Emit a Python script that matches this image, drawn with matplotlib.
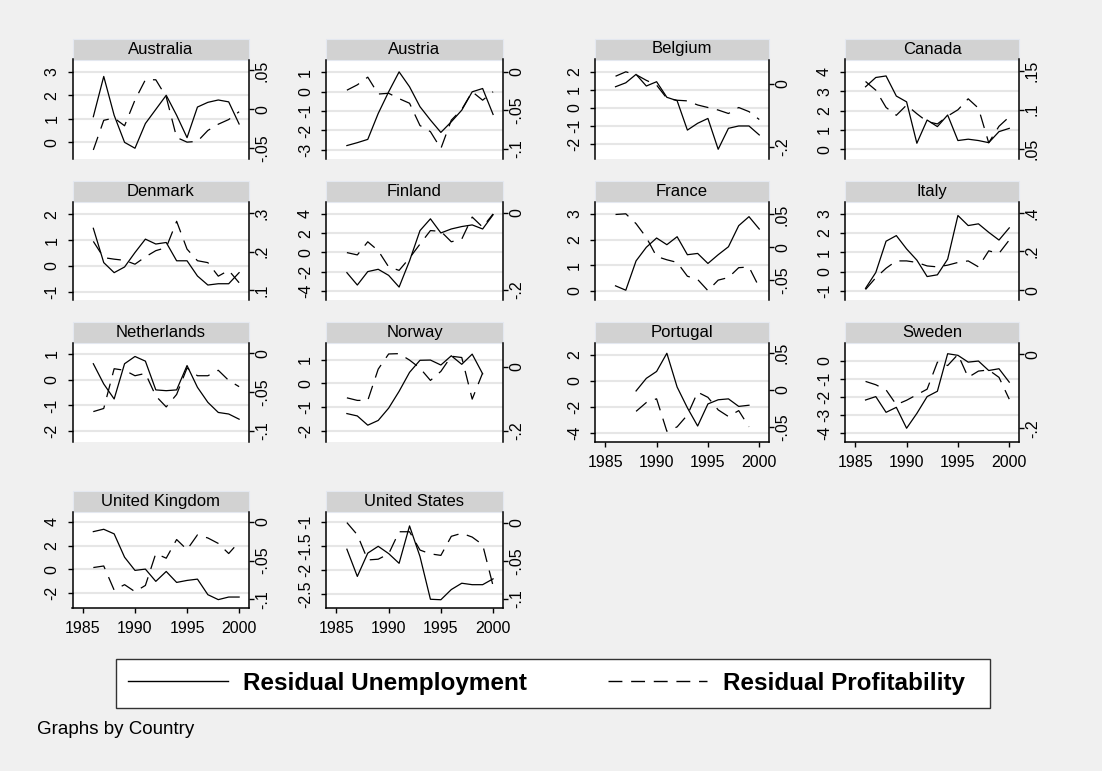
import numpy as np
import matplotlib
matplotlib.use('Agg')
import matplotlib.pyplot as plt
from matplotlib.patches import Rectangle
from matplotlib.lines import Line2D

plt.rcParams['font.family'] = ['Liberation Sans', 'DejaVu Sans']
plt.rcParams['lines.scale_dashes'] = False

nan = np.nan
years = list(range(1986, 2001))

# Residual Unemployment (left axis) / Residual Profitability (right axis)
australia_unemp = [1.09, 2.8, 1.15, 0.0, -0.25, 0.8, 1.4, 2.0, 1.15, 0.2, 1.5, 1.7, 1.8, 1.72, 0.78]
australia_prof = [-0.052, -0.014, -0.011, -0.021, 0.012, 0.038, 0.038, 0.016, -0.036, -0.042, -0.041, -0.027, -0.019, -0.013, -0.003]
austria_unemp = [-2.78, -2.63, -2.46, -1.12, 0.0, 1.03, 0.26, -0.77, -1.46, -2.1, -1.55, -0.95, 0.0, 0.17, -1.17]
austria_prof = [-0.024, -0.017, -0.007, -0.029, -0.028, -0.035, -0.041, -0.07, -0.078, -0.1, -0.063, -0.049, -0.026, -0.037, -0.026]
belgium_unemp = [1.17, 1.39, 1.86, 1.21, 1.45, 0.58, 0.39, -1.25, -0.87, -0.6, -2.32, -1.15, -1.02, -1.02, -1.52]
belgium_prof = [0.023, 0.037, 0.028, 0.01, -0.005, -0.047, -0.053, -0.055, -0.068, -0.076, -0.084, -0.095, -0.076, -0.089, -0.114]
canada_unemp = [3.23, 3.71, 3.79, 2.75, 2.45, 0.31, 1.51, 1.17, 1.77, 0.45, 0.52, 0.45, 0.34, 0.91, 1.08]
canada_prof = [0.136, 0.125, 0.103, 0.093, 0.106, 0.095, 0.085, 0.082, 0.092, 0.1, 0.114, 0.102, 0.058, 0.079, 0.091]
denmark_unemp = [1.46, 0.13, -0.26, -0.04, 0.52, 1.04, 0.85, 0.91, 0.2, 0.2, -0.39, -0.74, -0.69, -0.69, -0.26]
denmark_prof = [0.227, 0.185, 0.181, 0.178, 0.168, 0.187, 0.203, 0.211, 0.279, 0.207, 0.177, 0.172, 0.137, 0.152, 0.12]
finland_unemp = [-2.09, -3.37, -1.98, -1.74, -2.37, -3.58, -0.87, 2.26, 3.48, 2.02, 2.43, 2.68, 2.85, 2.43, 3.9]
finland_prof = [-0.103, -0.109, -0.075, -0.098, -0.14, -0.149, -0.117, -0.081, -0.046, -0.048, -0.075, -0.068, -0.011, -0.037, -0.003]
france_unemp = [0.2, 0.03, 1.17, 1.7, 2.06, 1.8, 2.11, 1.41, 1.46, 1.07, 1.41, 1.72, 2.54, 2.89, 2.41]
france_prof = [0.05, 0.051, 0.036, 0.015, -0.014, -0.019, -0.023, -0.044, -0.049, -0.066, -0.05, -0.046, -0.031, -0.03, -0.061]
italy_unemp = [-0.87, -0.05, 1.57, 1.86, 1.17, 0.59, -0.26, -0.17, 0.64, 2.9, 2.38, 2.47, 2.03, 1.63, 2.26]
italy_prof = [0.003, 0.064, 0.113, 0.151, 0.151, 0.143, 0.125, 0.12, 0.129, 0.143, 0.151, 0.12, 0.203, 0.19, 0.259]
netherlands_unemp = [0.61, -0.17, -0.75, 0.61, 0.89, 0.71, -0.4, -0.43, -0.4, 0.54, -0.3, -0.88, -1.27, -1.33, -1.53]
netherlands_prof = [-0.075, -0.071, -0.02, -0.022, -0.029, -0.026, -0.055, -0.069, -0.053, -0.019, -0.029, -0.029, -0.022, -0.035, -0.043]
norway_unemp = [-1.28, -1.38, -1.77, -1.57, -1.05, -0.34, 0.46, 0.97, 0.98, 0.77, 1.16, 0.8, 1.23, 0.4, nan]
norway_prof = [-0.097, -0.105, -0.105, -0.008, 0.039, 0.04, 0.02, -0.005, -0.043, -0.015, 0.032, 0.028, -0.101, -0.02, nan]
portugal_unemp = [nan, nan, -0.8, 0.17, 0.7, 2.1, -0.5, -2.1, -3.5, -1.8, -1.48, -1.41, -1.99, -1.9, nan]
portugal_prof = [nan, nan, -0.029, -0.017, -0.012, -0.056, -0.05, -0.034, -0.003, -0.01, -0.027, -0.036, -0.028, -0.05, nan]
sweden_unemp = [-2.18, -1.99, -2.87, -2.59, -3.76, -2.93, -1.99, -1.69, 0.41, 0.32, -0.06, 0.0, -0.53, -0.43, -1.18]
sweden_prof = [-0.073, -0.082, -0.096, -0.136, -0.124, -0.109, -0.094, -0.021, -0.03, 0.0, -0.062, -0.045, -0.042, -0.062, -0.121]
uk_unemp = [3.18, 3.38, 2.99, 1.01, -0.11, 0.0, -1.04, -0.2, -1.13, -0.96, -0.85, -2.17, -2.59, -2.37, -2.37]
uk_prof = [-0.059, -0.057, -0.088, -0.081, -0.09, -0.082, -0.041, -0.047, -0.023, -0.036, -0.017, -0.021, -0.028, -0.041, -0.026]
us_unemp = [-1.57, -2.13, -1.65, -1.51, -1.66, -1.86, -1.09, -1.72, -2.6, -2.61, -2.4, -2.27, -2.3, -2.3, -2.18]
us_prof = [0.0, -0.016, -0.049, -0.048, -0.041, -0.012, -0.012, -0.036, -0.041, -0.043, -0.018, -0.014, -0.019, -0.029, -0.083]

# name, left series, right series, left ylim, left ticks, right ylim, right ticks
panels = [
    ('Australia', australia_unemp, australia_prof, (-0.72, 3.52), [0, 1, 2, 3], (-0.064, 0.064), [-0.05, 0, 0.05]),
    ('Austria', austria_unemp, austria_prof, (-3.49, 1.67), [-3, -2, -1, 0, 1], (-0.114, 0.016), [-0.1, -0.05, 0]),
    ('Belgium', belgium_unemp, belgium_prof, (-2.88, 2.69), [-2, -1, 0, 1, 2], (-0.24, 0.076), [-0.2, 0]),
    ('Canada', canada_unemp, canada_prof, (-0.52, 4.64), [0, 1, 2, 3, 4], (0.037, 0.164), [0.05, 0.1, 0.15]),
    ('Denmark', denmark_unemp, denmark_prof, (-1.34, 2.48), [-1, 0, 1, 2], (0.074, 0.329), [0.1, 0.2, 0.3]),
    ('Finland', finland_unemp, finland_prof, (-4.97, 5.22), [-4, -2, 0, 2, 4], (-0.227, 0.028), [-0.2, 0]),
    ('France', france_unemp, france_prof, (-0.37, 3.46), [0, 1, 2, 3], (-0.081, 0.069), [-0.05, 0, 0.05]),
    ('Italy', italy_unemp, italy_prof, (-1.5, 3.6), [-1, 0, 1, 2, 3], (-0.054, 0.456), [0, 0.2, 0.4]),
    ('Netherlands', netherlands_unemp, netherlands_prof, (-2.41, 1.41), [-2, -1, 0, 1], (-0.114, 0.013), [-0.1, -0.05, 0]),
    ('Norway', norway_unemp, norway_prof, (-2.48, 1.70), [-2, -1, 0, 1], (-0.234, 0.073), [-0.2, 0]),
    ('Portugal', portugal_unemp, portugal_prof, (-4.73, 2.89), [-4, -2, 0, 2], (-0.0705, 0.0636), [-0.05, 0, 0.05]),
    ('Sweden', sweden_unemp, sweden_prof, (-4.53, 1.01), [-4, -3, -2, -1, 0], (-0.237, 0.031), [-0.2, 0]),
    ('United Kingdom', uk_unemp, uk_prof, (-3.30, 4.82), [-2, 0, 2, 4], (-0.111, 0.012), [-0.1, -0.05, 0]),
    ('United States', us_unemp, us_prof, (-2.78, -0.81), [-2.5, -2, -1.5, -1], (-0.112, 0.0135), [-0.1, -0.05, 0]),
]
xticks = [1985, 1990, 1995, 2000]

W, H = 1102, 771
DASH = (0, (10.0, 6.3))


def fmt(v):
    s = f"{v:g}"
    if s.startswith('0.'):
        s = s[1:]
    elif s.startswith('-0.'):
        s = '-' + s[2:]
    return s


def box(x0, x1, y0, y1):
    return [x0 / W, 1 - y1 / H, (x1 - x0) / W, (y1 - y0) / H]


fig = plt.figure(figsize=(W / 100, H / 100), dpi=100, facecolor='#F0F0F0')

cols = [(72.5, 249), (326, 503), (595, 769), (845, 1019)]
rows = [(59.5, 159.3), (202, 300.5), (343, 442), (512.3, 608)]
bar_px = 21

for i, (name, u, p, yl, tl, yr, tr) in enumerate(panels):
    r, c = divmod(i, 4)
    x0, x1 = cols[c]
    y0, y1 = rows[r]
    ax = fig.add_axes(box(x0, x1, y0, y1))
    ax2 = ax.twinx()
    ax.set_facecolor('white')

    ax.plot(years, u, color='black', lw=0.9)
    ax2.plot(years, p, color='black', lw=0.9, ls=DASH)

    ax.set_xlim(1984.0, 2000.95)
    ax.set_ylim(*yl)
    ax2.set_ylim(*yr)

    ax.set_yticks(tl)
    ax.set_yticklabels([fmt(v) for v in tl], rotation=90, va='center')
    ax2.set_yticks(tr)
    ax2.set_yticklabels([fmt(v) for v in tr], rotation=90, va='center')
    ax.grid(axis='y', color='#E6E6E6', lw=1.5)
    ax.set_axisbelow(True)

    bottom = i >= 10
    for s in ['top', 'right']:
        ax.spines[s].set_visible(False)
    for s in ['top', 'left', 'bottom']:
        ax2.spines[s].set_visible(False)
    ax.spines['bottom'].set_visible(bottom)
    for sp in [ax.spines['left'], ax.spines['bottom'], ax2.spines['right']]:
        sp.set_linewidth(1.1)

    ax.tick_params(axis='y', direction='out', length=3.8, width=1.0, pad=5.5, labelsize=11.5)
    ax2.tick_params(axis='y', direction='out', length=3.8, width=1.0, pad=0.5, labelsize=11.5)
    ax.set_xticks(xticks)
    if bottom:
        ax.tick_params(axis='x', direction='out', length=3.8, width=1.0, pad=5.5, labelsize=11.5)
    else:
        ax.tick_params(axis='x', bottom=False, labelbottom=False)

    bh = bar_px / (y1 - y0)
    ax.add_patch(Rectangle((0, 1), 1, bh, transform=ax.transAxes, clip_on=False,
                           facecolor='#D2D2D2', edgecolor='#E4E8F0', lw=0.8))
    ax.text(0.5, 1 + bh / 2, name, transform=ax.transAxes, ha='center', va='center',
            fontsize=12)

# legend box
fig.add_artist(Rectangle((116 / W, 1 - 708 / H), 874 / W, 49 / H, transform=fig.transFigure,
                         facecolor='white', edgecolor='#333333', lw=1.0))
h1 = Line2D([], [], color='black', lw=1.0)
h2 = Line2D([], [], color='black', lw=1.0, ls=DASH)
fig.legend([h1, h2], ['Residual Unemployment', 'Residual Profitability'],
           loc='center left', bbox_to_anchor=(128 / W, 1 - 683.5 / H), ncol=2,
           frameon=False, borderpad=0, borderaxespad=0, handlelength=4.1,
           handletextpad=0.65, columnspacing=3.3,
           prop={'size': 17.5, 'weight': 'bold'})

fig.text(37 / W, 1 - 730 / H, 'Graphs by Country', fontsize=13.5, va='center', ha='left')

fig.savefig('out.png', dpi=100, facecolor=fig.get_facecolor())
